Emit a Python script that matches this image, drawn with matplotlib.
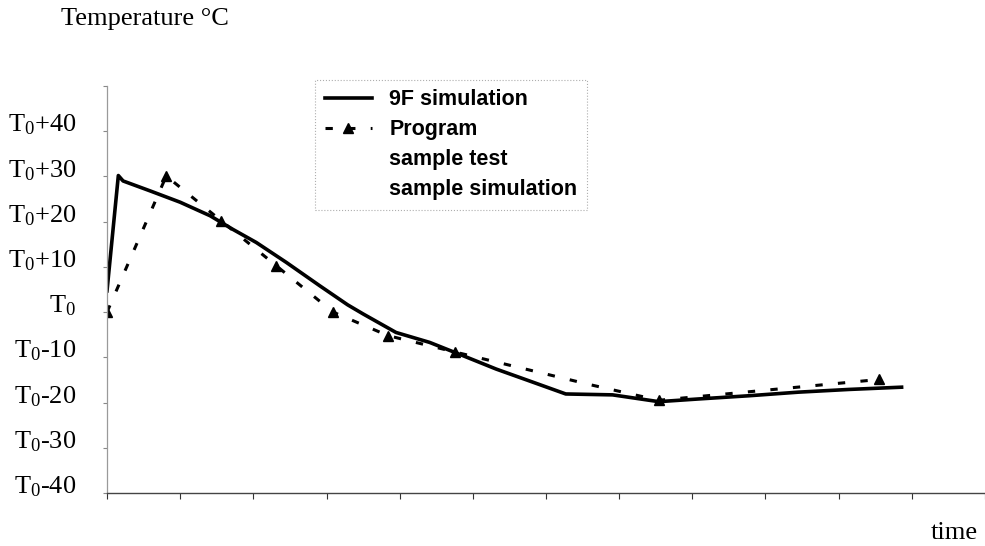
import matplotlib
matplotlib.use("Agg")
import matplotlib.pyplot as plt
import matplotlib.transforms as mtransforms

# ---- data (x in time-tick units, y in degrees relative to T0) ----
sim9f_x = [0.0, 0.155, 0.22, 0.59, 1.0, 1.41, 1.72, 2.04, 2.45, 2.91, 3.29, 3.50,
           3.95, 4.41, 4.86, 5.32, 5.77, 6.27, 6.91, 7.54, 8.09, 8.77, 9.45, 10.14, 10.86]
sim9f_y = [4.7, 30.2, 29.0, 26.8, 24.3, 21.3, 18.3, 15.4, 11.0, 5.8, 1.6, -0.4,
           -4.5, -6.7, -9.6, -12.6, -15.2, -18.1, -18.3, -19.8, -19.2, -18.5, -17.7, -17.1, -16.6]

prog_x = [0.0, 0.81, 1.56, 2.31, 3.09, 3.84, 4.75, 6.59, 7.54, 10.55]
prog_y = [0.0, 30.1, 20.2, 10.3, 0.0, -5.2, -8.8, -16.0, -19.5, -14.9]
prog_marker_idx = [0, 1, 2, 3, 4, 5, 6, 8, 9]

ytick_vals = [-40, -30, -20, -10, 0, 10, 20, 30, 40, 50]
ytick_labels = [r"$\mathrm{T}_0$-40", r"$\mathrm{T}_0$-30", r"$\mathrm{T}_0$-20", r"$\mathrm{T}_0$-10",
                r"$\mathrm{T}_0$", r"$\mathrm{T}_0$+10", r"$\mathrm{T}_0$+20", r"$\mathrm{T}_0$+30",
                r"$\mathrm{T}_0$+40", ""]
xtick_vals = list(range(0, 13))

legend_labels = ["9F simulation", "Program", "sample test", "sample simulation"]

# ---- style ----
plt.rcParams["mathtext.fontset"] = "custom"
plt.rcParams["mathtext.rm"] = "Liberation Serif"
plt.rcParams["mathtext.it"] = "Liberation Serif:italic"
plt.rcParams["mathtext.bf"] = "Liberation Serif:bold"

W, H = 985, 546
fig = plt.figure(figsize=(W / 100, H / 100), dpi=100)
ax = fig.add_axes([107 / W, (H - 493) / H, (985 - 107) / W, (493 - 86) / H])

ax.plot(sim9f_x, sim9f_y, color="black", lw=2.6, solid_joinstyle="round",
        label=legend_labels[0])
ax.plot(prog_x, prog_y, color="black", lw=2.2, linestyle=(0, (2.4, 5.0)),
        marker="^", markersize=7, markevery=prog_marker_idx, label=legend_labels[1])
ax.plot([], [], color="white", lw=0, label=legend_labels[2])
ax.plot([], [], color="white", lw=0, label=legend_labels[3])

ax.set_xlim(0, 12)
ax.set_ylim(-40, 50)

ax.set_yticks(ytick_vals)
ax.set_yticklabels(ytick_labels, family="Liberation Serif", fontsize=19)
ax.set_xticks(xtick_vals)
ax.set_xticklabels([])

ax.tick_params(axis="y", direction="out", length=3, width=0.8, color="#888888", pad=19)
ax.tick_params(axis="x", direction="out", length=4, width=0.8, color="#333333")

offset = mtransforms.ScaledTranslation(0, 0.09, fig.dpi_scale_trans)
for lab in ax.get_yticklabels():
    lab.set_transform(lab.get_transform() + offset)

for s in ["top", "right"]:
    ax.spines[s].set_visible(False)
ax.spines["left"].set_color("#9a9a9a")
ax.spines["left"].set_linewidth(0.9)
ax.spines["bottom"].set_color("#444444")
ax.spines["bottom"].set_linewidth(1.0)

leg = ax.legend(loc="lower right", bbox_to_anchor=(587 / W, 1 - 210 / H),
                bbox_transform=fig.transFigure, borderaxespad=0,
                prop={"family": "Liberation Sans", "weight": "bold", "size": 15.5},
                frameon=True, fancybox=False, handlelength=2.2, handletextpad=0.8,
                labelspacing=0.42, borderpad=0.45)
fr = leg.get_frame()
fr.set_edgecolor("#9a9a9a")
fr.set_linewidth(0.8)
fr.set_linestyle(":")

fig.text(145 / W, 1 - 19 / H, "Temperature °C", family="Liberation Serif", fontsize=19,
         ha="center", va="center")
fig.text(954 / W, 1 - 533 / H, "time", family="Liberation Serif", fontsize=19,
         ha="center", va="center")

fig.savefig("out.png", dpi=100)
